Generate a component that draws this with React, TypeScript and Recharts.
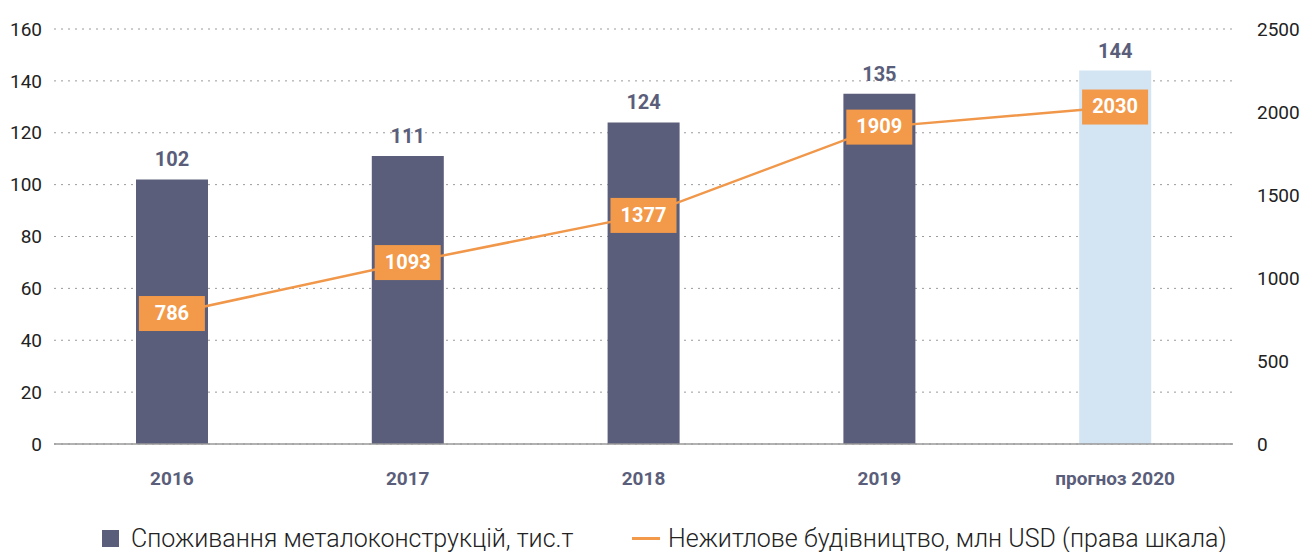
import React from 'react';
import { ComposedChart, Bar, Line, XAxis, YAxis, CartesianGrid, LabelList, Cell, Legend } from 'recharts';

const categories = ['2016', '2017', '2018', '2019', 'прогноз 2020'];
const consumption = [102, 111, 124, 135, 144];
const construction = [786, 1093, 1377, 1909, 2030];
const leftTicks = [0, 20, 40, 60, 80, 100, 120, 140, 160];
const rightTicks = [0, 500, 1000, 1500, 2000, 2500];

const barName = 'Споживання металоконструкцій, тис.т';
const lineName = 'Нежитлове будівництво, млн USD (права шкала)';

const data = categories.map((c, i) => ({ cat: c, cons: consumption[i], build: construction[i] }));

const BAR = '#5A5E7A';
const FORECAST = '#D3E4F3';
const ORANGE = '#F2994A';
const FONT = 'Roboto, "DejaVu Sans", sans-serif';

const LineLabel = (props: any) => {
  const { x, y, value } = props;
  const w = 66;
  const h = 35;
  return (
    <g>
      <rect x={x - w / 2} y={y - h / 2} width={w} height={h} fill={ORANGE} />
      <text x={x} y={y + 1} textAnchor="middle" dominantBaseline="middle" fill="#fff" fontSize={20} fontWeight={700} fontFamily={FONT}>
        {value}
      </text>
    </g>
  );
};

const LegendContent = () => (
  <div style={{ position: 'relative', height: 58, width: 1301, fontFamily: FONT, fontSize: 25, lineHeight: '25px', fontWeight: 300, color: '#222' }}>
    <div style={{ position: 'absolute', left: 102, top: 32, height: 25, display: 'flex', alignItems: 'center' }}>
      <div style={{ width: 17, height: 17, background: BAR, marginRight: 12 }} />
      <span style={{ whiteSpace: 'nowrap' }}>{barName}</span>
    </div>
    <div style={{ position: 'absolute', left: 632, top: 32, height: 25, display: 'flex', alignItems: 'center' }}>
      <div style={{ width: 28, height: 3, background: ORANGE, marginRight: 8 }} />
      <span style={{ whiteSpace: 'nowrap' }}>{lineName}</span>
    </div>
  </div>
);

export default function App() {
  return (
    <div style={{ position: 'absolute', left: 0, top: 0, width: 1301, height: 552, background: '#fff' }}>
      <ComposedChart width={1301} height={552} data={data} margin={{ top: 29, right: 0, left: 0, bottom: 0 }}>
        <CartesianGrid vertical={false} stroke="#9a9a9a" strokeDasharray="2 5" yAxisId="left" />
        <XAxis
          dataKey="cat"
          height={50}
          axisLine={{ stroke: '#999', strokeWidth: 1.5 }}
          tickLine={false}
          tickMargin={22}
          tick={{ fill: BAR, fontSize: 19, fontWeight: 700, fontFamily: FONT }}
        />
        <YAxis
          yAxisId="left"
          width={54}
          domain={[0, 160]}
          ticks={leftTicks}
          axisLine={false}
          tickLine={false}
          tickMargin={6}
          tick={{ fill: '#222', fontSize: 19, fontFamily: FONT }}
        />
        <YAxis
          yAxisId="right"
          orientation="right"
          width={68}
          domain={[0, 2500]}
          ticks={rightTicks}
          axisLine={false}
          tickLine={false}
          tickMargin={18}
          tick={{ fill: '#222', fontSize: 19, fontFamily: FONT, textAnchor: 'start' }}
        />
        <Legend verticalAlign="bottom" height={58} wrapperStyle={{ left: 0, width: 1301 }} content={<LegendContent />} />
        <Bar yAxisId="left" dataKey="cons" name={barName} barSize={72} fill={BAR} isAnimationActive={false}>
          {data.map((d, i) => (
            <Cell key={i} fill={i === data.length - 1 ? FORECAST : BAR} />
          ))}
          <LabelList dataKey="cons" position="top" offset={13} fill={BAR} fontSize={20} fontWeight={700} fontFamily={FONT} />
        </Bar>
        <Line
          yAxisId="right"
          dataKey="build"
          name={lineName}
          stroke="#F0974A"
          strokeWidth={2.5}
          dot={false}
          activeDot={false}
          isAnimationActive={false}
        >
          <LabelList dataKey="build" content={<LineLabel />} />
        </Line>
      </ComposedChart>
    </div>
  );
}
